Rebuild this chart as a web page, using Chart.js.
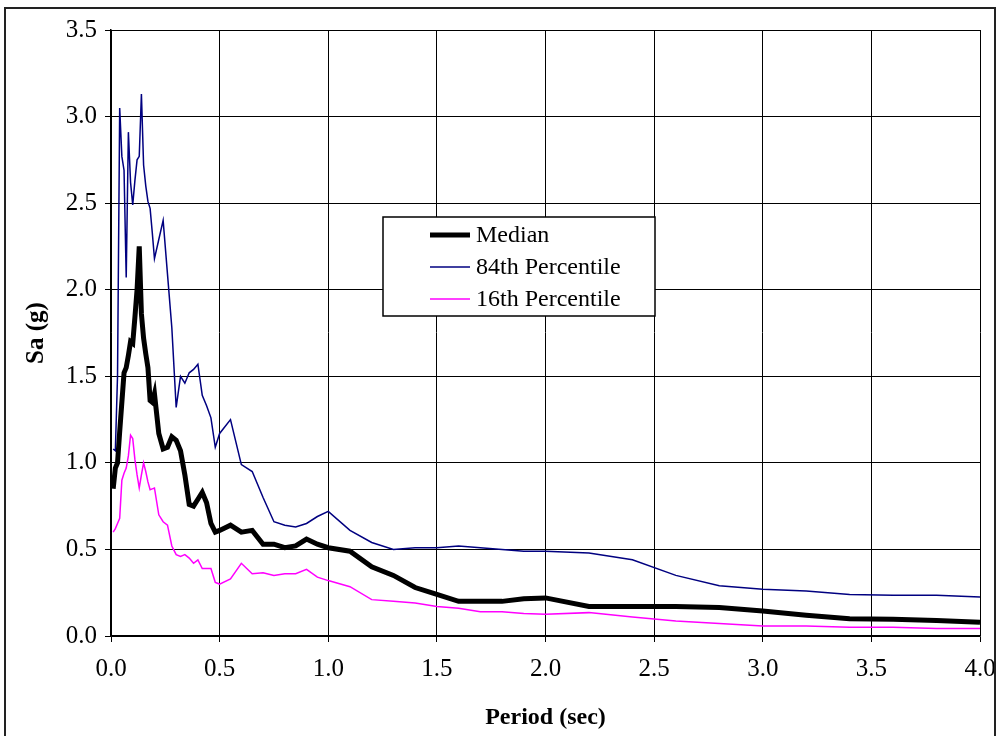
<!DOCTYPE html>
<html>
<head>
<meta charset="utf-8">
<script src="https://cdn.jsdelivr.net/npm/chart.js@4.4.1/dist/chart.umd.min.js"></script>
<style>
  html, body { margin: 0; padding: 0; background: #fff; }
  #wrap { width: 1000px; height: 736px; position: relative; }
</style>
</head>
<body>
<div id="wrap"><canvas id="spectra" width="1000" height="736"></canvas></div>
<script>
// response spectra: period (sec) vs spectral acceleration Sa (g)
// values
var periods = [0.01, 0.02, 0.03, 0.04, 0.05, 0.06, 0.07, 0.08, 0.09, 0.10,
  0.11, 0.12, 0.13, 0.14, 0.15, 0.16, 0.17, 0.18, 0.19, 0.20,
  0.22, 0.24, 0.26, 0.28, 0.30, 0.32, 0.34, 0.36, 0.38, 0.40,
  0.42, 0.44, 0.46, 0.48, 0.50, 0.55, 0.60, 0.65, 0.70, 0.75,
  0.80, 0.85, 0.90, 0.95, 1.0, 1.1, 1.2, 1.3, 1.4, 1.5,
  1.6, 1.7, 1.8, 1.9, 2.0, 2.2, 2.4, 2.6, 2.8, 3.0,
  3.2, 3.4, 3.6, 3.8, 4.0];

var median = [0.85, 0.97, 1.00, 1.18, 1.35, 1.52, 1.55, 1.62, 1.70, 1.69,
  1.84, 2.00, 2.25, 1.86, 1.72, 1.63, 1.55, 1.36, 1.35, 1.40,
  1.17, 1.08, 1.09, 1.15, 1.13, 1.07, 0.93, 0.76, 0.75, 0.79,
  0.83, 0.77, 0.65, 0.60, 0.61, 0.64, 0.60, 0.61, 0.53, 0.53,
  0.51, 0.52, 0.56, 0.53, 0.51, 0.49, 0.40, 0.35, 0.28, 0.24,
  0.20, 0.20, 0.20, 0.215, 0.22, 0.17, 0.17, 0.17, 0.165, 0.145,
  0.12, 0.10, 0.097, 0.09, 0.08];

var p84 = [1.08, 1.07, 1.50, 3.05, 2.77, 2.69, 2.07, 2.91, 2.62, 2.49,
  2.63, 2.75, 2.77, 3.13, 2.72, 2.60, 2.51, 2.47, 2.33, 2.18,
  2.29, 2.40, 2.09, 1.78, 1.32, 1.50, 1.46, 1.52, 1.54, 1.57,
  1.39, 1.33, 1.26, 1.09, 1.17, 1.25, 0.99, 0.95, 0.80, 0.66,
  0.64, 0.63, 0.65, 0.69, 0.72, 0.61, 0.54, 0.50, 0.51, 0.51,
  0.52, 0.51, 0.50, 0.49, 0.49, 0.48, 0.44, 0.35, 0.29, 0.27,
  0.26, 0.24, 0.235, 0.235, 0.225];

var p16 = [0.60, 0.62, 0.65, 0.68, 0.90, 0.94, 0.97, 1.04, 1.16, 1.14,
  1.02, 0.93, 0.855, 0.93, 1.00, 0.95, 0.89, 0.845, 0.85, 0.855,
  0.70, 0.66, 0.64, 0.52, 0.47, 0.46, 0.47, 0.45, 0.42, 0.44,
  0.39, 0.39, 0.39, 0.31, 0.30, 0.33, 0.42, 0.36, 0.365, 0.35,
  0.36, 0.36, 0.385, 0.34, 0.32, 0.285, 0.21, 0.20, 0.19, 0.17,
  0.16, 0.14, 0.14, 0.13, 0.125, 0.135, 0.11, 0.087, 0.072, 0.058,
  0.058, 0.05, 0.05, 0.043, 0.043];

var seriesNames = ["Median", "84th Percentile", "16th Percentile"];

function toPoints(vals) {
  return periods.map(function (p, i) { return { x: p, y: vals[i] }; });
}

var serif = '"Liberation Serif", "Times New Roman", serif';
Chart.defaults.font.family = serif;
Chart.defaults.color = '#000';

// legend box floating inside the plot, like the excel original
var boxLegend = {
  id: 'boxLegend',
  afterDraw: function (chart) {
    var ctx = chart.ctx;
    ctx.save();
    ctx.fillStyle = '#fff';
    ctx.fillRect(383, 217, 272, 99);
    ctx.strokeStyle = '#000';
    ctx.lineWidth = 1.5;
    ctx.strokeRect(383, 217, 272, 99);
    chart.data.datasets.forEach(function (ds, i) {
      var y = 235 + i * 32;
      ctx.beginPath();
      ctx.strokeStyle = ds.borderColor;
      ctx.lineWidth = ds.borderWidth;
      ctx.moveTo(430, y);
      ctx.lineTo(470, y);
      ctx.stroke();
      ctx.fillStyle = '#000';
      ctx.font = '24px ' + serif;
      ctx.textBaseline = 'middle';
      ctx.fillText(ds.label, 476, y + 1);
    });
    // outer frame
    ctx.strokeStyle = '#222';
    ctx.lineWidth = 2;
    ctx.strokeRect(5, 8, 990, 740);
    ctx.restore();
  }
};

var chart = new Chart(document.getElementById('spectra'), {
  type: 'line',
  data: {
    datasets: [
      {
        label: seriesNames[0],
        data: toPoints(median),
        borderColor: '#000000',
        borderWidth: 5,
        fill: false
      },
      {
        label: seriesNames[1],
        data: toPoints(p84),
        borderColor: '#000080',
        borderWidth: 1.5,
        fill: false
      },
      {
        label: seriesNames[2],
        data: toPoints(p16),
        borderColor: '#ff00ff',
        borderWidth: 1.5,
        fill: false
      }
    ]
  },
  options: {
    responsive: false,
    animation: false,
    layout: { padding: { top: 30, right: 0, left: 0, bottom: 0 } },
    elements: { point: { radius: 0 }, line: { tension: 0 } },
    plugins: {
      legend: { display: false },
      tooltip: { enabled: false }
    },
    scales: {
      x: {
        type: 'linear',
        min: 0,
        max: 4,
        afterFit: function (s) { s.height = 100; s.paddingRight = 20; },
        ticks: {
          stepSize: 0.5,
          padding: 12,
          maxRotation: 0,
          font: { size: 25 },
          callback: function (v) { return v.toFixed(1); }
        },
        grid: { color: '#000', lineWidth: 1, tickLength: 6 },
        border: { color: '#000', width: 1.5 },
        title: {
          display: true,
          text: 'Period (sec)',
          font: { size: 24, weight: 'bold' },
          padding: { top: 0, bottom: 4 }
        }
      },
      y: {
        min: 0,
        max: 3.5,
        afterFit: function (s) { s.width = 111; },
        ticks: {
          stepSize: 0.5,
          padding: 8,
          font: { size: 25 },
          callback: function (v) { return v.toFixed(1); }
        },
        grid: { color: '#000', lineWidth: 1, tickLength: 6 },
        border: { color: '#000', width: 1.5 },
        title: {
          display: true,
          text: 'Sa (g)',
          font: { size: 25, weight: 'bold' },
          padding: { top: 22, bottom: 0 }
        }
      }
    }
  },
  plugins: [boxLegend]
});
</script>
</body>
</html>
